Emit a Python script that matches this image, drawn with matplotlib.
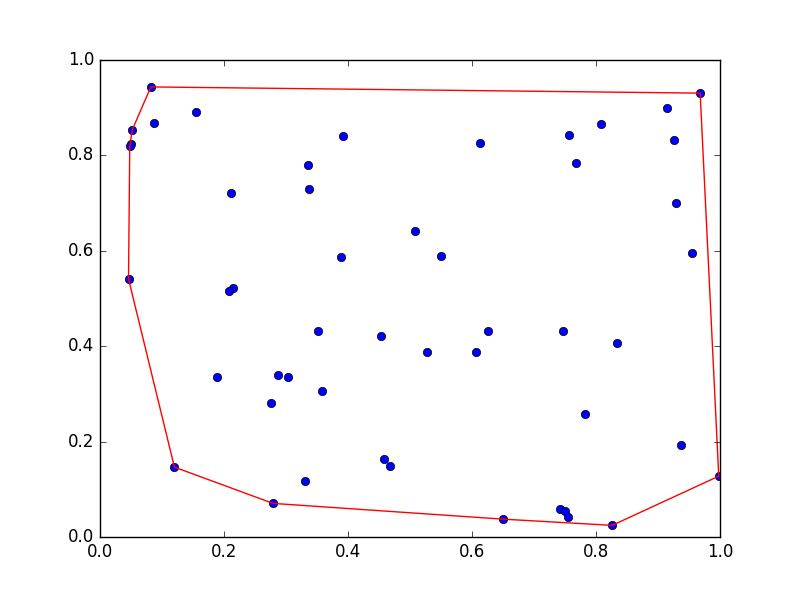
import numpy as np
import matplotlib
matplotlib.use("Agg")
import matplotlib.pyplot as plt

plt.style.use("classic")

# points
xs = [0.082, 0.968, 0.052, 0.050, 0.048, 0.087, 0.155, 0.212, 0.335, 0.337,
      0.392, 0.046, 0.215, 0.208, 0.389, 0.508, 0.550, 0.613, 0.756, 0.768,
      0.808, 0.915, 0.926, 0.929, 0.955, 0.352, 0.454, 0.528, 0.607, 0.625,
      0.746, 0.834, 0.188, 0.287, 0.304, 0.275, 0.358, 0.782, 0.937, 0.458,
      0.468, 0.331, 0.120, 0.279, 0.650, 0.742, 0.750, 0.755, 0.826, 0.998]
ys = [0.943, 0.930, 0.853, 0.823, 0.819, 0.867, 0.890, 0.720, 0.780, 0.729,
      0.840, 0.541, 0.522, 0.515, 0.587, 0.641, 0.588, 0.825, 0.842, 0.783,
      0.865, 0.898, 0.832, 0.701, 0.595, 0.431, 0.421, 0.389, 0.387, 0.431,
      0.431, 0.406, 0.335, 0.339, 0.335, 0.281, 0.306, 0.258, 0.193, 0.164,
      0.149, 0.117, 0.147, 0.071, 0.038, 0.059, 0.056, 0.042, 0.025, 0.128]


def convex_hull(pts):
    """Monotone chain convex hull, returns closed list of points."""
    pts = sorted(pts)

    def cross(o, a, b):
        return (a[0] - o[0]) * (b[1] - o[1]) - (a[1] - o[1]) * (b[0] - o[0])

    lower, upper = [], []
    for p in pts:
        while len(lower) >= 2 and cross(lower[-2], lower[-1], p) <= 0:
            lower.pop()
        lower.append(p)
    for p in reversed(pts):
        while len(upper) >= 2 and cross(upper[-2], upper[-1], p) <= 0:
            upper.pop()
        upper.append(p)
    hull = lower[:-1] + upper[:-1]
    return hull + [hull[0]]


hull = np.array(convex_hull(list(zip(xs, ys))))

fig = plt.figure(figsize=(8, 5.97), dpi=100, facecolor="white")
ax = fig.add_axes([0.125, 0.1, 0.775, 0.8])
ax.plot(xs, ys, "o", color="blue", markeredgecolor="k",
        markeredgewidth=0.5, markersize=6)
ax.plot(hull[:, 0], hull[:, 1], "r-", linewidth=1)
ax.set_xlim(0, 1)
ax.set_ylim(0, 1)

fig.savefig("out.png", dpi=100, facecolor="white")
